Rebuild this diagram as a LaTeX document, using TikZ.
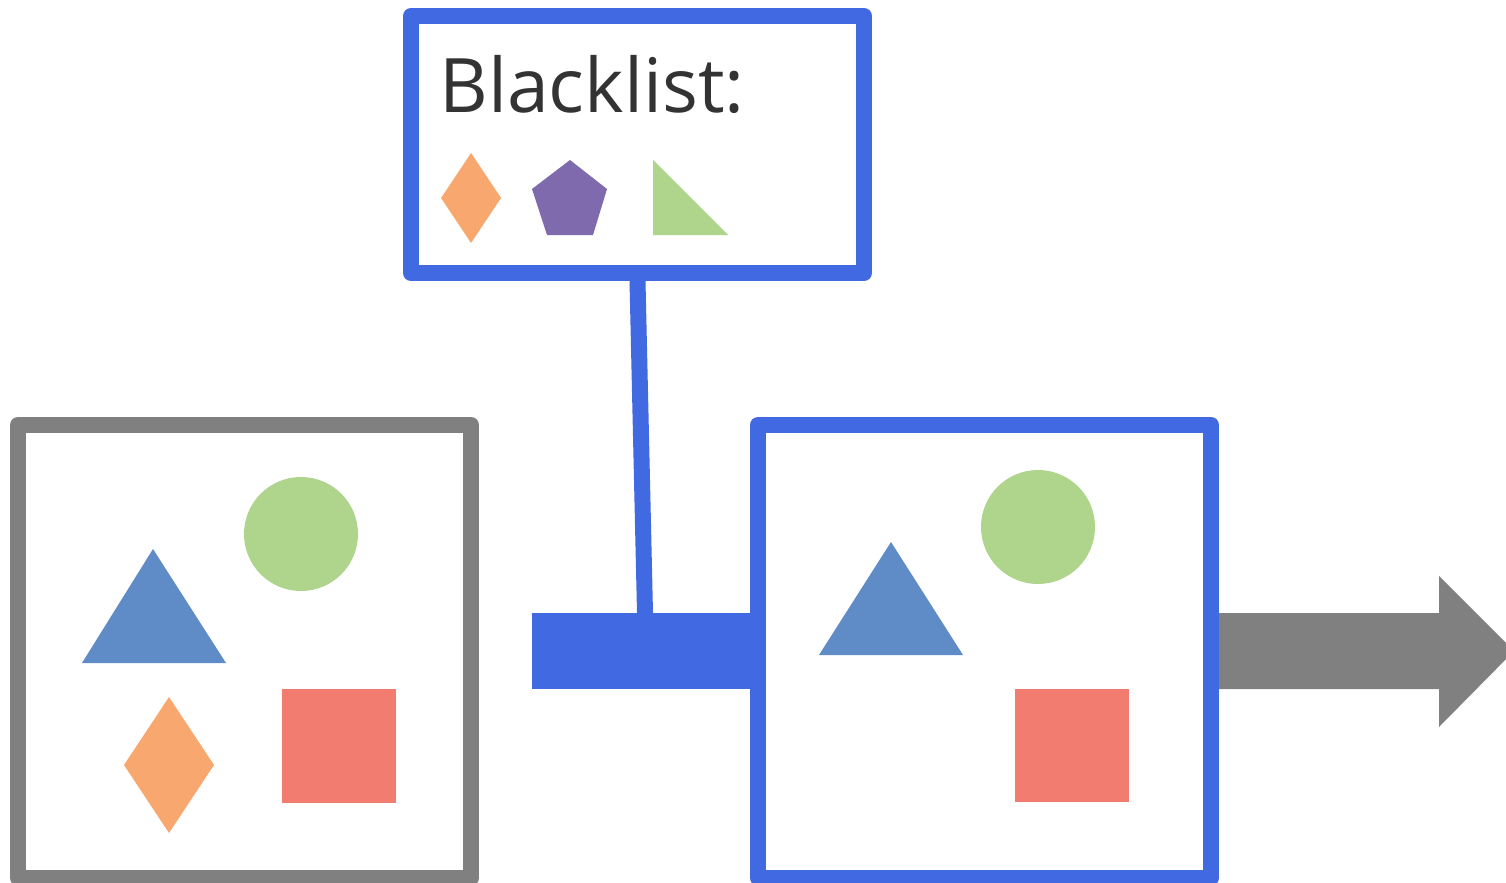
\documentclass[tikz,border=0pt]{standalone}
\usepackage{fontspec}
\setmainfont{Open Sans}
\definecolor{rblue}{RGB}{65,105,225}
\definecolor{bgray}{RGB}{128,128,128}
\definecolor{sgreen}{RGB}{174,213,139}
\definecolor{sblue}{RGB}{95,139,198}
\definecolor{sorange}{RGB}{248,168,111}
\definecolor{sred}{RGB}{243,124,112}
\definecolor{spurple}{RGB}{127,106,174}
\definecolor{txt}{RGB}{51,51,51}
\tikzset{
  frame/.style={draw, line width=8pt, line join=round, fill=white, inner sep=0pt},
}
\begin{document}
\begin{tikzpicture}[x=0.5pt,y=-0.5pt]
\useasboundingbox (0,0) rectangle (1506,883);
% boxes
\node[frame, draw=bgray, minimum width=226.5pt, minimum height=226.5pt] (in) at (244.5,651.5) {};
\node[frame, draw=rblue, minimum width=226.5pt, minimum height=226.5pt] (out) at (984.5,651.5) {};
\node[frame, draw=rblue, minimum width=226.5pt, minimum height=128.5pt] (bl) at (637.5,144.5) {};
% filter bar
\node[fill=rblue, inner sep=0pt, minimum width=109.5pt, minimum height=38pt] (bar) at (641.5,651) {};
\coordinate (bartop) at (645,613);
\draw[rblue, line width=8pt] (bl.south) -- (bartop);
% output arrow
\fill[bgray] (out.east |- 0,613) -- (1439,613) -- (1439,576) -- (1514,651) -- (1439,727) -- (1439,689) -- (out.east |- 0,689) -- cycle;
% blacklist text
\node[anchor=base west, inner sep=0pt, text=txt, font=\fontsize{37.6pt}{45pt}\selectfont] (title) at (439,113) {Blacklist:};
% blacklist shapes
\fill[sorange] (471,153) -- (501,198) -- (471,243) -- (441,198) -- cycle;
\fill[spurple] (570,160) -- (607,189) -- (593,235) -- (547,235) -- (532,189) -- cycle;
\fill[sgreen] (653,160) -- (728,235) -- (653,235) -- cycle;
% input shapes
\fill[sgreen] (301,534) circle[radius=28.5pt];
\fill[sblue] (153,549) -- (226,663) -- (82,663) -- cycle;
\fill[sorange] (169,697) -- (214,765) -- (169,833) -- (124,765) -- cycle;
\fill[sred] (282,689) rectangle (396,803);
% output shapes
\fill[sgreen] (1038,527) circle[radius=28.5pt];
\fill[sblue] (891,542) -- (963,655) -- (819,655) -- cycle;
\fill[sred] (1015,689) rectangle (1129,802);
\end{tikzpicture}
\end{document}
